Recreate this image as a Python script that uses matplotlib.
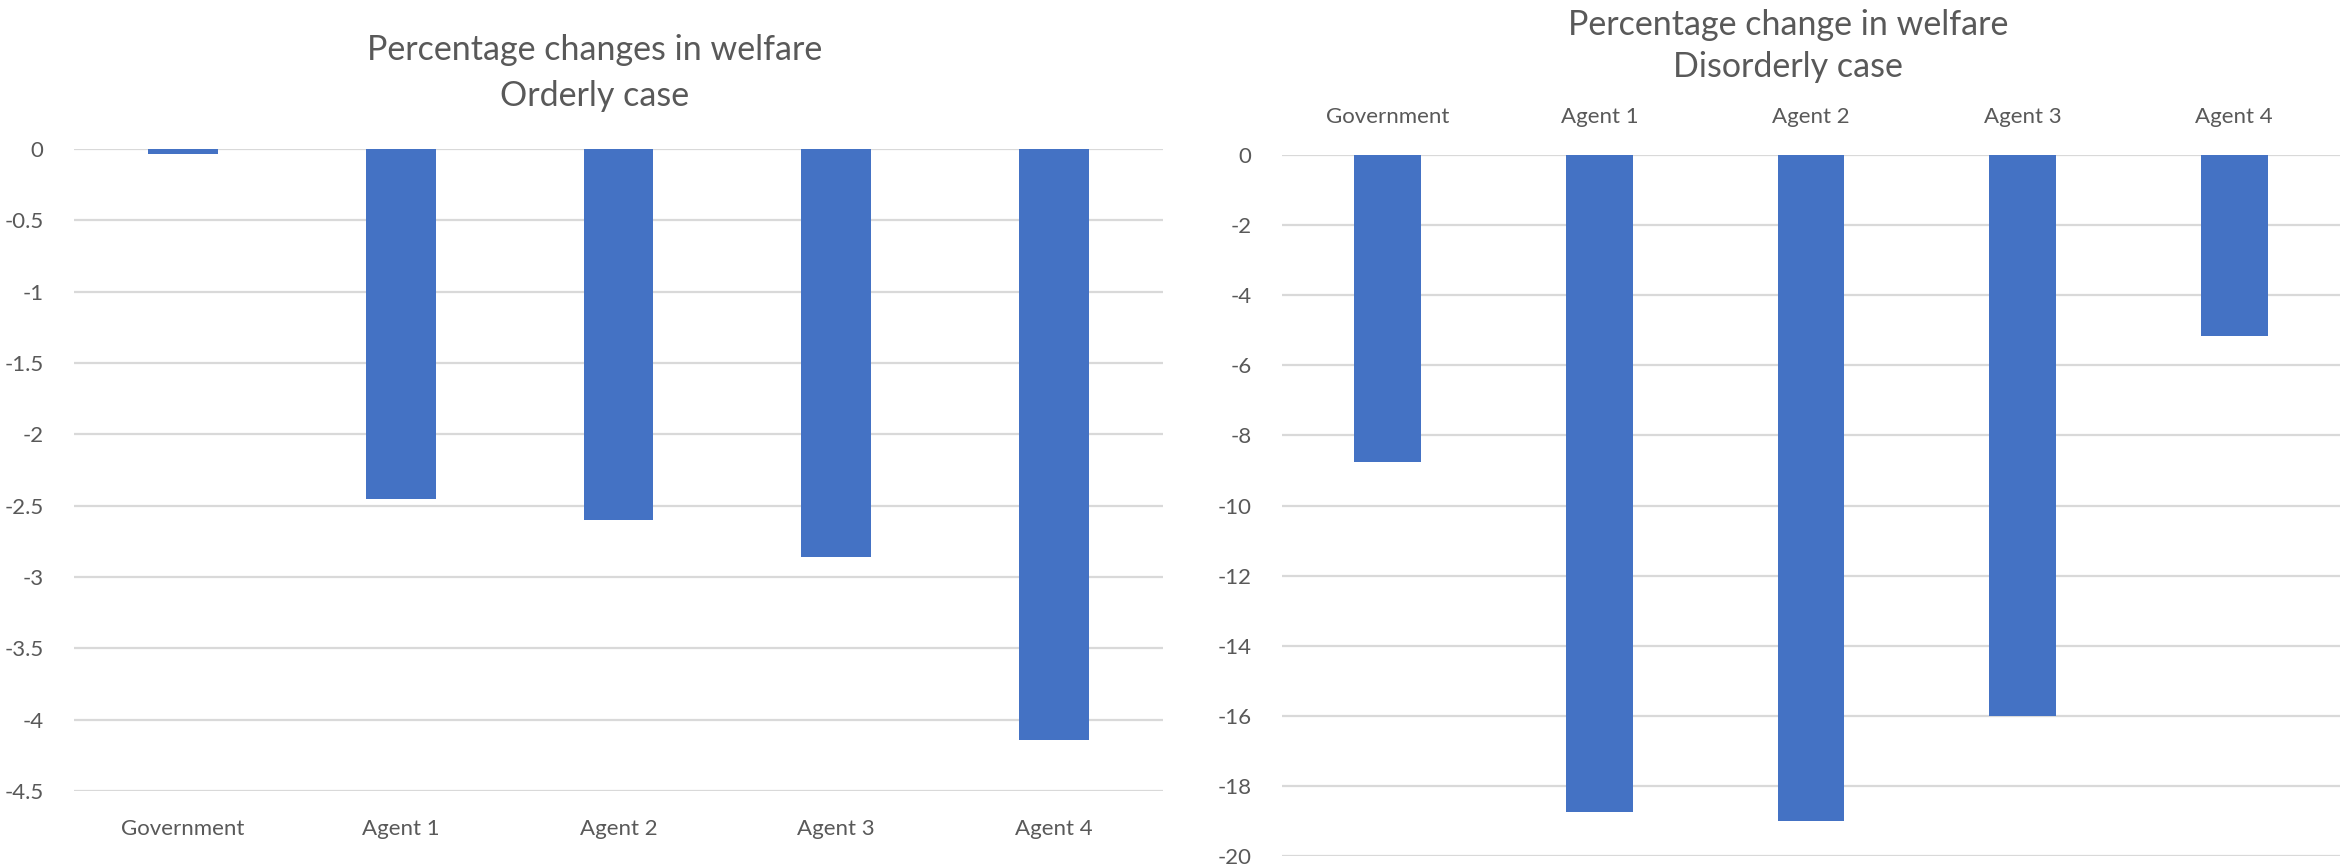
import matplotlib
matplotlib.use("Agg")
from matplotlib import pyplot as plt
import numpy as np

categories = ["Government", "Agent 1", "Agent 2", "Agent 3", "Agent 4"]
orderly = [-0.035, -2.45, -2.60, -2.86, -4.14]
disorderly = [-8.75, -18.75, -19.0, -16.0, -5.15]

orderly_ticks = [0, -0.5, -1, -1.5, -2, -2.5, -3, -3.5, -4, -4.5]
disorderly_ticks = [0, -2, -4, -6, -8, -10, -12, -14, -16, -18, -20]

bar_color = "#4472C4"
grid_color = "#D9D9D9"
text_color = "#595959"

plt.rcParams['font.family'] = ['Lato', 'DejaVu Sans']

W, H = 2344, 865
fig = plt.figure(figsize=(W/100, H/100), dpi=100)


def style_axes(ax, ticks, ylim):
    ax.set_ylim(ylim)
    ax.set_xlim(-0.5, len(categories) - 0.5)
    ax.set_yticks(ticks)
    ax.set_yticklabels([f"{t:g}" for t in ticks])
    for s in ax.spines.values():
        s.set_visible(False)
    ax.yaxis.grid(True, color=grid_color, linewidth=1.6)
    ax.set_axisbelow(True)
    ax.tick_params(axis='y', length=0, pad=22, labelsize=16, labelcolor=text_color)
    ax.tick_params(axis='x', length=0, labelsize=16, labelcolor=text_color)


# left: orderly case
ax1 = fig.add_axes([74/W, 1 - 791/H, (1163-74)/W, (791-149)/H])
x = np.arange(len(categories))
ax1.bar(x, orderly, width=0.32, color=bar_color, zorder=3)
style_axes(ax1, orderly_ticks, (-4.5, 0))
ax1.set_xticks(x)
ax1.set_xticklabels(categories)
ax1.tick_params(axis='x', pad=20)

# right: disorderly case, category labels on top
ax2 = fig.add_axes([1282/W, 1 - 856/H, (2340-1282)/W, (856-155)/H])
ax2.bar(x, disorderly, width=0.315, color=bar_color, zorder=3)
style_axes(ax2, disorderly_ticks, (-20, 0))
ax2.set_xticks(x)
ax2.set_xticklabels(categories)
ax2.xaxis.tick_top()
ax2.tick_params(axis='x', pad=20)

fig.text(595/W, 1 - 50/H, "Percentage changes in welfare", ha='center', va='center',
         fontsize=24.5, color=text_color)
fig.text(595/W, 1 - 96/H, "Orderly case", ha='center', va='center',
         fontsize=24.5, color=text_color)
fig.text(1788/W, 1 - 25/H, "Percentage change in welfare", ha='center', va='center',
         fontsize=24.5, color=text_color)
fig.text(1788/W, 1 - 67/H, "Disorderly case", ha='center', va='center',
         fontsize=24.5, color=text_color)

fig.savefig("out.png", dpi=100)
